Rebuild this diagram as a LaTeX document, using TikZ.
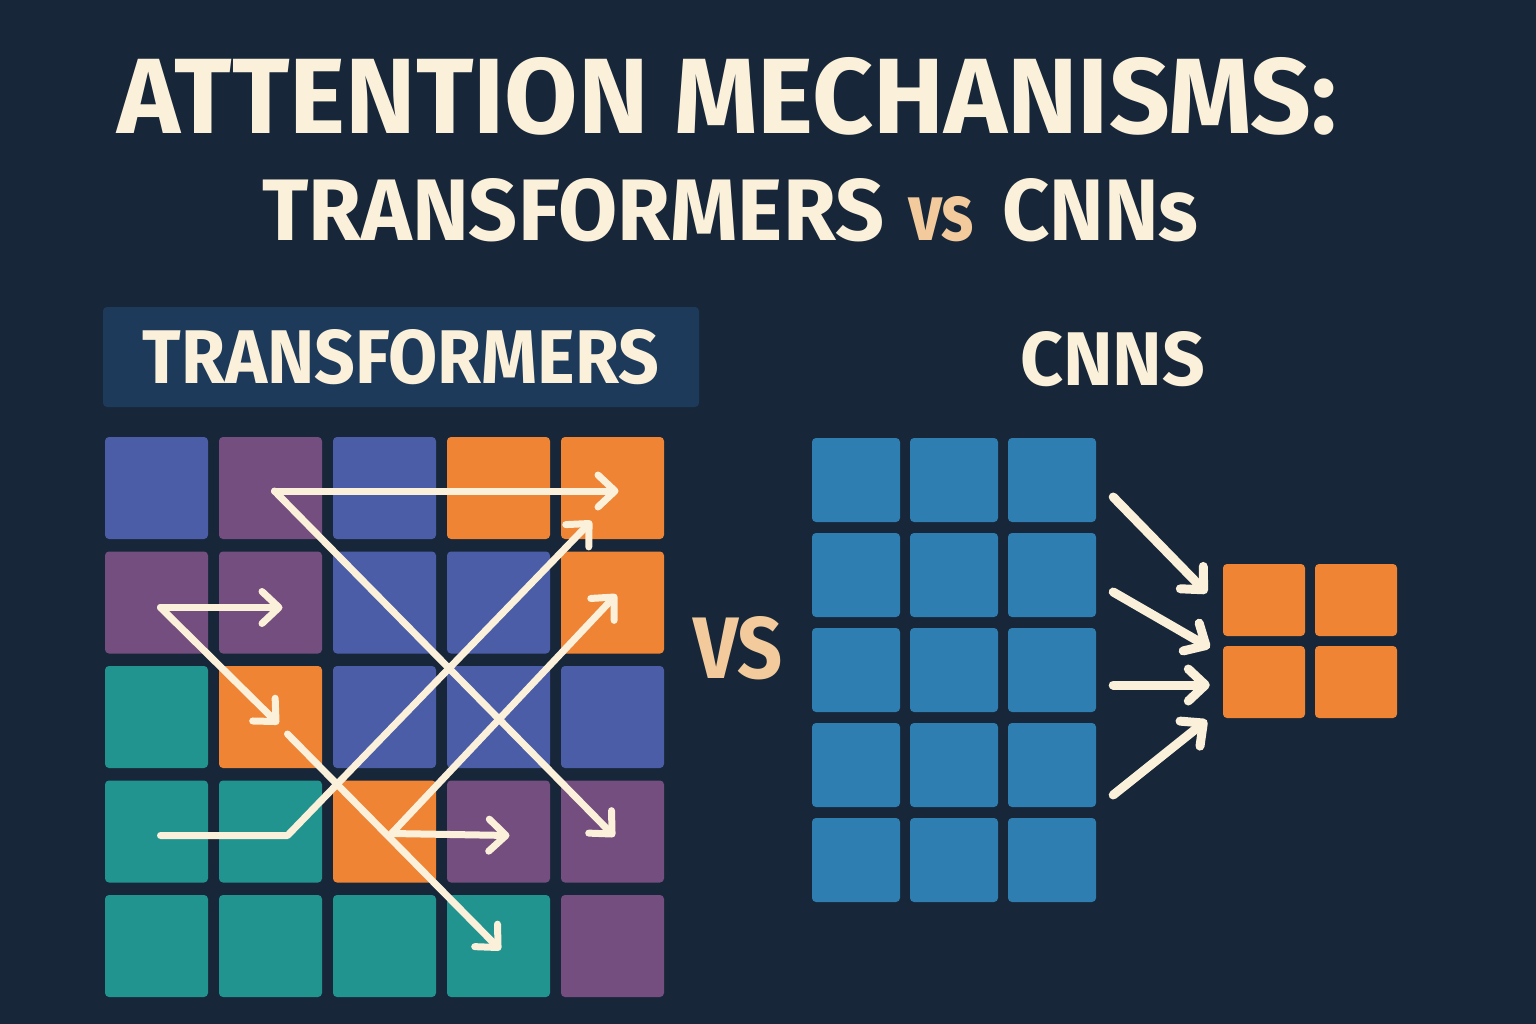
\documentclass[tikz,border=0pt]{standalone}
\usepackage{fontspec}
\setmainfont{Fira Sans}
\usepackage{graphicx}
\usetikzlibrary{arrows.meta,calc}

\definecolor{bgnavy}{HTML}{172739}
\definecolor{labelblue}{HTML}{1D3A5A}
\definecolor{cream}{HTML}{FBF0DA}
\definecolor{vstan}{HTML}{F2CA9C}
\definecolor{tind}{HTML}{4B5DA7}
\definecolor{tpur}{HTML}{744E7E}
\definecolor{torg}{HTML}{EE8434}
\definecolor{ttea}{HTML}{229490}
\definecolor{cnnblue}{HTML}{2E7EB1}

\newcommand{\fitbox}[3]{\resizebox{#1pt}{#2pt}{\bfseries #3}}

\begin{document}
\begin{tikzpicture}[x=1pt, y=-1pt,
      cell/.style={inner sep=0pt, rounded corners=4pt},
      tcell/.style={cell, minimum width=103pt, minimum height=102pt},
      ccell/.style={cell, fill=cnnblue, minimum width=88pt, minimum height=84pt},
      ocell/.style={cell, fill=torg, minimum width=82pt, minimum height=72pt},
      ttl/.style={inner sep=0pt, anchor=south west, text=cream},
      att/.style={draw=cream, line width=7pt, line cap=round, line join=round,
        -{Straight Barb[length=17pt,width=32pt,round]}},
      cnv/.style={att, line width=9pt}]
    \fill[bgnavy] (0,0) rectangle (1536,1024);

    % titles
    \node[ttl] (title) at (117,136) {\fitbox{1220}{76}{ATTENTION MECHANISMS:}};
    \node[ttl] (tfm) at (262,242) {\fitbox{622}{62}{TRANSFORMERS}};
    \node[ttl, text=vstan] (vs) at (908,242) {\fitbox{66}{44}{vs}};
    \node[ttl] (cnns) at (1002,242) {\fitbox{196}{62}{CNNs}};

    \node[cell, fill=labelblue, minimum width=596pt, minimum height=100pt, text=cream]
      (tlabel) at (401,357) {\fitbox{517}{54}{TRANSFORMERS}};
    \node[ttl] (clabel) at (1020,387) {\fitbox{185}{54}{CNNS}};
    \node[ttl, text=vstan] (vsmid) at (693,680) {\fitbox{89}{62}{VS}};

    % transformer grid
    \foreach \row [count=\i] in {{tind,tpur,tind,torg,torg},{tpur,tpur,tind,tind,torg},
        {ttea,torg,tind,tind,tind},{ttea,ttea,torg,tpur,tpur},{ttea,ttea,ttea,ttea,tpur}}
      \foreach \clr [count=\j] in \row
        \node[tcell, fill=\clr] (t\i\j) at ({156.5+114*(\j-1)},{488+114.5*(\i-1)}) {};

    \draw[att] ([shift={(4,3)}]t12.center) -- ([shift={(6,3)}]t15.center);
    \draw[att] ([shift={(4,3)}]t12.center) -- ([shift={(2,5)}]t45.center);
    \draw[att] ([shift={(4,5)}]t21.center) -- ([shift={(12,5)}]t22.center);
    \draw[att] ([shift={(4,5)}]t21.center) -- ([shift={(8,7)}]t32.center);
    \draw[att] ([shift={(17,17)}]t32.center) -- ([shift={(2,4)}]t54.center);
    \draw[att] ([shift={(4,4)}]t41.center) -- ([shift={(17,4)}]t42.center)
      -- ([shift={(-21,33)}]t15.center);
    \draw[att] ([shift={(7,2)}]t43.center) -- ([shift={(4,-8)}]t25.center);
    \draw[att] ([shift={(7,2)}]t43.center) -- ([shift={(11,4)}]t44.center);

    % cnn grid
    \foreach \i in {1,...,5}
      \foreach \j in {1,2,3}
        \node[ccell] (c\i\j) at ({856+98*(\j-1)},{480+95*(\i-1)}) {};
    \foreach \i in {1,2}
      \foreach \j in {1,2}
        \node[ocell] (o\i\j) at ({1264+92*(\j-1)},{600+82*(\i-1)}) {};

    \draw[cnv] ([shift={(17,17)}]c13.east) -- ([shift={(-16,-7)}]o11.west);
    \draw[cnv] ([shift={(17,17)}]c23.east) -- ([shift={(-13,2)}]o21.north west);
    \draw[cnv] ([shift={(17,15)}]c33.east) -- ([shift={(-13,3)}]o21.west);
    \draw[cnv] ([shift={(17,30)}]c43.east) -- ([shift={(-16,2)}]o21.south west);
  \end{tikzpicture}
\end{document}
